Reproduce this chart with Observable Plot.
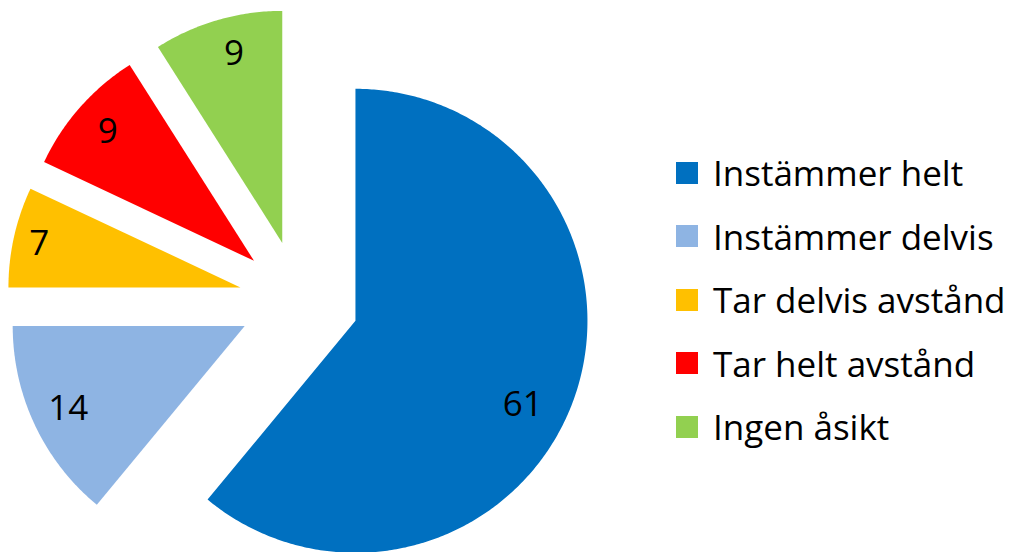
<!DOCTYPE html>
<html><head><meta charset="utf-8">
<script src="https://cdn.jsdelivr.net/npm/d3@7"></script>
<script src="https://cdn.jsdelivr.net/npm/@observablehq/plot@0.6"></script>
<style>
body{margin:0;background:#fff;}
#wrap{position:relative;width:1026px;height:552px;font-family:"Open Sans",sans-serif;}
#legend{position:absolute;left:676px;top:141.3px;}
.row{display:flex;align-items:center;height:63.4px;font-size:35px;color:#000;white-space:nowrap;}
.sw{width:22px;height:22px;margin-right:15px;flex:none;}
</style></head><body><div id="wrap"></div>
<script>
// ---- data ----
const categories = ["Instämmer helt", "Instämmer delvis", "Tar delvis avstånd", "Tar helt avstånd", "Ingen åsikt"];
const values = [61, 14, 7, 9, 9];
const colors = ["#0070C0", "#8EB4E3", "#FFC000", "#FF0000", "#92D050"];

// ---- layout ----
const W = 1026, H = 552;
const R = 232;            // pie radius in px
const CX = 298.5, CY = 300; // pie centre in px
const EXPLODE = 60 / R;    // slice offset as fraction of radius
const LABEL_R = 0.84;      // label distance from slice apex (fraction of radius)
const nudge = [[-16, 18], [0, 0], [-11, -1], [0, 0], [6, -2]];

const arcs = d3.pie().sort(null).value(d => d)(values);
const outline = [];
const labels = [];
arcs.forEach((a, i) => {
  const cat = categories[i];
  const mid = (a.startAngle + a.endAngle) / 2;
  const ox = EXPLODE * Math.sin(mid), oy = EXPLODE * Math.cos(mid);
  outline.push({cat, x: ox, y: oy});
  const n = Math.max(2, Math.ceil((a.endAngle - a.startAngle) / 0.01));
  for (let k = 0; k <= n; k++) {
    const t = a.startAngle + (a.endAngle - a.startAngle) * k / n;
    outline.push({cat, x: ox + Math.sin(t), y: oy + Math.cos(t)});
  }
  labels.push({cat, value: values[i], x: ox + LABEL_R * Math.sin(mid), y: oy + LABEL_R * Math.cos(mid), i});
});

const chart = Plot.plot({
  width: W, height: H,
  marginTop: 0, marginRight: 0, marginBottom: 0, marginLeft: 0,
  style: {fontFamily: '"Open Sans", sans-serif', background: "#fff"},
  x: {domain: [-CX / R, (W - CX) / R], axis: null},
  y: {domain: [-(H - CY) / R, CY / R], axis: null},
  color: {domain: categories, range: colors},
  marks: [
    Plot.line(outline, {x: "x", y: "y", z: "cat", fill: "cat", stroke: "none", curve: "linear-closed"}),
    ...labels.map(d => Plot.text([d], {x: "x", y: "y", text: "value", fontSize: 35, fill: "#000", dx: nudge[d.i][0], dy: nudge[d.i][1]}))
  ]
});

const wrap = document.getElementById("wrap");
wrap.appendChild(chart);
const legend = document.createElement("div");
legend.id = "legend";
categories.forEach((c, i) => {
  const row = document.createElement("div");
  row.className = "row";
  const sw = document.createElement("div");
  sw.className = "sw";
  sw.style.background = colors[i];
  const t = document.createElement("span");
  t.textContent = c;
  row.appendChild(sw); row.appendChild(t);
  legend.appendChild(row);
});
wrap.appendChild(legend);
</script></body></html>
